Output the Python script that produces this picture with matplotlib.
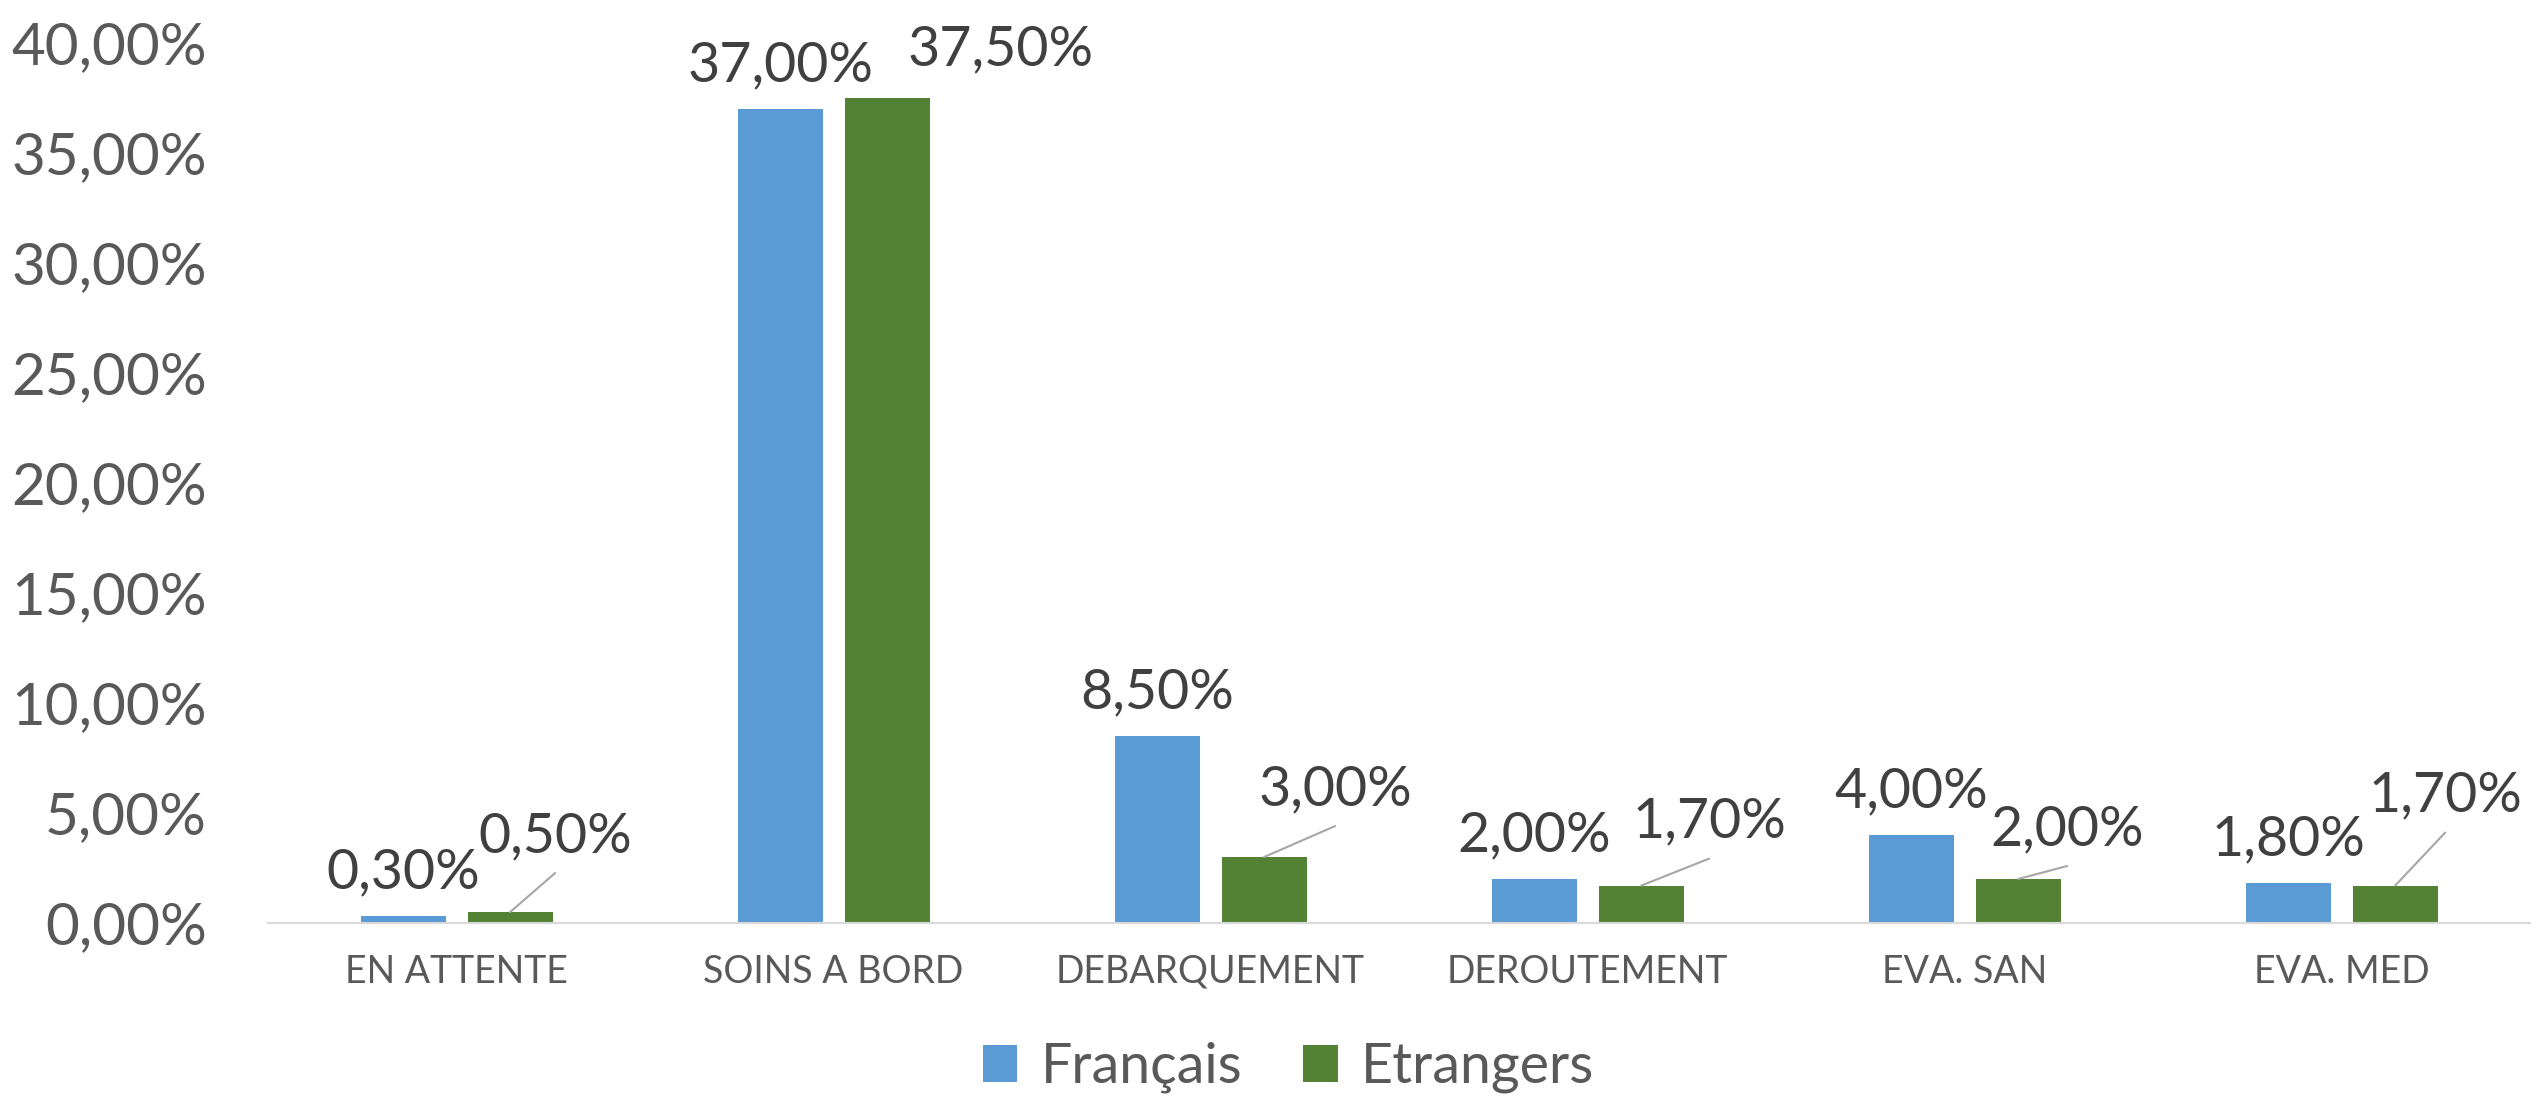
import numpy as np
import matplotlib
matplotlib.use("Agg")
import matplotlib.pyplot as plt
from matplotlib.ticker import FuncFormatter, MultipleLocator

categories = ["EN ATTENTE", "SOINS A BORD", "DEBARQUEMENT", "DEROUTEMENT", "EVA. SAN", "EVA. MED"]
francais = [0.30, 37.00, 8.50, 2.00, 4.00, 1.80]
etrangers = [0.50, 37.50, 3.00, 1.70, 2.00, 1.70]
series_names = ["Français", "Etrangers"]

# label placement for the green series (moved by hand in the original), pixels
green_label_dx = [45, 113, 71, 68, 49, 50]
green_label_dy = [60, 33, 52, 48, 34, 74]
green_leader = [True, False, True, True, True, True]

BLUE = "#5B9BD5"
GREEN = "#548235"
plt.rcParams['font.family'] = ['Lato', 'DejaVu Sans']


def pct(v):
    return f"{v:.2f}".replace('.', ',') + '%'


fig = plt.figure(figsize=(25.39, 10.97), dpi=100)
ax = fig.add_axes([0.1056, 0.1586, 0.8909, 0.8022])

x = np.arange(len(categories))
w = 0.2255
off = 0.142
ax.bar(x - off, francais, w, color=BLUE, label=series_names[0])
ax.bar(x + off, etrangers, w, color=GREEN, label=series_names[1])

ax.set_xlim(-0.5, len(categories) - 0.5)
ax.set_ylim(0, 40)
ax.yaxis.set_major_locator(MultipleLocator(5))
ax.yaxis.set_major_formatter(FuncFormatter(lambda v, p: pct(v)))

for s in ["top", "right", "left"]:
    ax.spines[s].set_visible(False)
ax.spines["bottom"].set_color("#D9D9D9")
ax.spines["bottom"].set_linewidth(1.5)

ax.set_xticks(x)
ax.set_xticklabels(categories)
ax.tick_params(axis='x', length=0, pad=22, labelsize=27, labelcolor="#595959")
ax.tick_params(axis='y', length=0, pad=44, labelsize=42, labelcolor="#595959")

# blue labels straight above the bars
for xi, v in zip(x - off, francais):
    ax.annotate(pct(v), xy=(xi, v), xytext=(0, 28), textcoords='offset pixels',
                ha='center', va='baseline', fontsize=40, color="#404040")

# green labels shifted, with leader lines
for xi, v, dx, dy, lead in zip(x + off, etrangers, green_label_dx, green_label_dy, green_leader):
    ax.annotate(pct(v), xy=(xi, v), xytext=(dx, dy), textcoords='offset pixels',
                ha='center', va='baseline', fontsize=40, color="#404040")
    if lead:
        ax.annotate('', xy=(xi, v), xytext=(dx, dy - 21), textcoords='offset pixels',
                    arrowprops=dict(arrowstyle='-', color="#A6A6A6", lw=1.5,
                                    shrinkA=0, shrinkB=0))

fig.legend(loc='center', bbox_to_anchor=(0.5075, 0.027), ncol=2, frameon=False,
           fontsize=40, handlelength=0.62, handleheight=0.65, handletextpad=0.42,
           columnspacing=1.1, labelcolor="#595959")

fig.savefig("out.png", dpi=100)
